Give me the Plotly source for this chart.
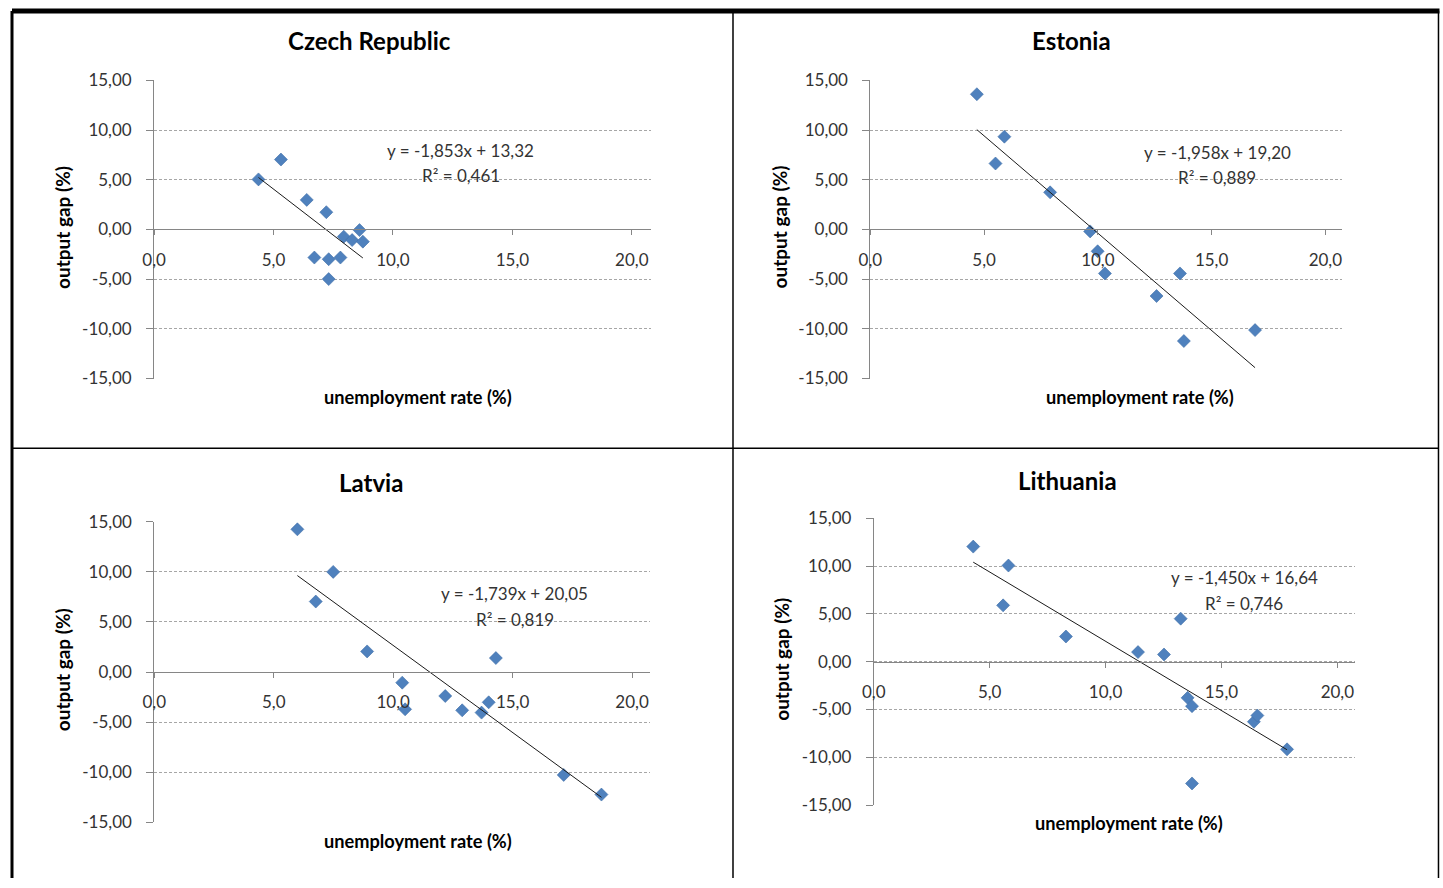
import plotly.graph_objects as go

# ---------------- data ----------------
countries = ["Czech Republic", "Estonia", "Latvia", "Lithuania"]

cz_unemp = [4.37, 5.31, 6.39, 7.21, 8.60, 7.94, 8.29, 8.74, 6.71, 7.31, 7.80, 7.31]
cz_gap = [5.03, 7.03, 2.97, 1.73, -0.07, -0.73, -1.07, -1.23, -2.83, -3.00, -2.83, -5.00]

ee_unemp = [4.68, 5.89, 5.50, 7.90, 9.66, 9.99, 10.31, 13.61, 12.58, 16.91, 13.78]
ee_gap = [13.60, 9.33, 6.63, 3.73, -0.20, -2.20, -4.43, -4.43, -6.70, -10.13, -11.23]

lv_unemp = [5.99, 7.49, 6.76, 8.91, 14.30, 10.38, 10.50, 12.18, 12.89, 13.70, 14.00, 17.14, 18.72]
lv_gap = [14.25, 10.00, 7.04, 2.06, 1.40, -1.06, -3.72, -2.39, -3.82, -4.05, -3.02, -10.27, -12.23]

lt_unemp = [4.29, 5.81, 5.58, 8.29, 11.40, 12.52, 13.24, 13.54, 13.73, 16.40, 16.55, 17.83, 13.73]
lt_gap = [12.05, 10.07, 5.90, 2.64, 1.01, 0.76, 4.51, -3.78, -4.65, -6.28, -5.63, -9.17, -12.74]

slopes = [-1.853, -1.958, -1.739, -1.450]
intercepts = [13.32, 19.20, 20.05, 16.64]
equations = ["y = -1,853x + 13,32", "y = -1,958x + 19,20", "y = -1,739x + 20,05", "y = -1,450x + 16,64"]
r2_labels = ["R² = 0,461", "R² = 0,889", "R² = 0,819", "R² = 0,746"]

x_tick_vals = [0, 5, 10, 15, 20]
x_tick_labels = ["0,0", "5,0", "10,0", "15,0", "20,0"]
y_tick_vals = [-15, -10, -5, 0, 5, 10, 15]
y_tick_labels = ["-15,00", "-10,00", "-5,00", "0,00", "5,00", "10,00", "15,00"]

x_title = "unemployment rate (%)"
y_title = "output gap (%)"

xs = [cz_unemp, ee_unemp, lv_unemp, lt_unemp]
ys = [cz_gap, ee_gap, lv_gap, lt_gap]

# ---------------- layout geometry ----------------
W, H = 1443, 888
# the photographed page appears scaled and offset; target positions below are
# given in picture pixels and converted to page pixels
SX, OX = 0.991, 10.5
SY, OY = 0.979, 10.5


def px(x):
    return ((x - OX) / SX) / W


def py(y):
    return 1 - ((y - OY) / SY) / H


# plot areas in picture pixels: left, right, top (=15), bottom (=-15), x range max
panels = [
    dict(l=152.5, r=649.0, t=80.0, b=379.0, xmax=20.8),
    dict(l=868.3, r=1340.0, t=80.0, b=379.0, xmax=20.75),
    dict(l=152.7, r=648.0, t=522.7, b=824.0, xmax=20.75),
    dict(l=871.7, r=1353.0, t=519.3, b=806.7, xmax=20.78),
]
title_pos = [(368, 40), (1069, 40), (369, 483), (1065, 481)]
xtitle_pos = [(416, 398), (1138, 398), (416, 843), (1127, 825)]
ytitle_pos = [(61, 227.5), (777, 227.5), (61, 671), (780, 661)]
eq_pos = [(459, 150, 175.5), (1215, 152, 177.5), (513, 595, 620.5), (1242, 579, 604.5)]

FONT = "Lato"
TXT = "#333333"
AXC = "#868686"
BLUE = "#4F81BD"

fig = go.Figure()
annotations = []
shapes = []

for i in range(4):
    p = panels[i]
    sfx = "" if i == 0 else str(i + 1)
    xa, ya = "x" + sfx, "y" + sfx
    fig.add_trace(go.Scatter(
        x=xs[i], y=ys[i], mode="markers", xaxis=xa, yaxis=ya,
        marker=dict(symbol="diamond", size=10, color=BLUE,
                    line=dict(width=0.6, color="#3f6fa8")),
        showlegend=False, hoverinfo="x+y"))
    x0, x1 = min(xs[i]), max(xs[i])
    fig.add_trace(go.Scatter(
        x=[x0, x1], y=[slopes[i] * x0 + intercepts[i], slopes[i] * x1 + intercepts[i]],
        mode="lines", xaxis=xa, yaxis=ya,
        line=dict(color="#1a1a1a", width=1), showlegend=False, hoverinfo="skip"))

    zero_y = p["t"] + (p["b"] - p["t"]) / 2.0
    xdom = [px(p["l"]), px(p["r"])]
    ydom = [py(p["b"]), py(p["t"])]

    fig.update_layout(**{
        ("xaxis" + sfx): dict(
            domain=xdom, range=[0, p["xmax"]], anchor="free", position=py(zero_y),
            tickvals=x_tick_vals, ticktext=x_tick_labels,
            showgrid=False, zeroline=False, showline=True, linecolor=AXC, linewidth=1,
            ticks="outside", ticklen=5, tickcolor=AXC, ticklabelstandoff=10,
            tickfont=dict(family=FONT, size=17, color=TXT), fixedrange=True),
        ("yaxis" + sfx): dict(
            domain=ydom, range=[-15, 15], anchor=xa,
            tickvals=y_tick_vals, ticktext=y_tick_labels,
            showgrid=True, gridcolor="#a6a6a6", griddash="3px,2px", gridwidth=1,
            zeroline=False, showline=True, linecolor=AXC, linewidth=1,
            ticks="outside", ticklen=7, tickcolor=AXC, ticklabelstandoff=11,
            tickfont=dict(family=FONT, size=17, color=TXT), fixedrange=True),
    })

    tx, ty = title_pos[i]
    annotations.append(dict(text="<b>" + countries[i] + "</b>", x=px(tx), y=py(ty),
                            xref="paper", yref="paper", showarrow=False,
                            xanchor="center", yanchor="middle",
                            font=dict(family=FONT, size=24, color="#000000")))
    tx, ty = xtitle_pos[i]
    annotations.append(dict(text="<b>" + x_title + "</b>", x=px(tx), y=py(ty),
                            xref="paper", yref="paper", showarrow=False,
                            xanchor="center", yanchor="middle",
                            font=dict(family=FONT, size=18.2, color="#000000")))
    tx, ty = ytitle_pos[i]
    annotations.append(dict(text="<b>" + y_title + "</b>", x=px(tx), y=py(ty),
                            xref="paper", yref="paper", showarrow=False, textangle=-90,
                            xanchor="center", yanchor="middle",
                            font=dict(family=FONT, size=19, color="#000000")))
    tx, ty1, ty2 = eq_pos[i]
    annotations.append(dict(text=equations[i], x=px(tx), y=py(ty1),
                            xref="paper", yref="paper", showarrow=False,
                            xanchor="center", yanchor="middle",
                            font=dict(family=FONT, size=17, color=TXT)))
    annotations.append(dict(text=r2_labels[i], x=px(tx), y=py(ty2),
                            xref="paper", yref="paper", showarrow=False,
                            xanchor="center", yanchor="middle",
                            font=dict(family=FONT, size=17, color=TXT)))

# table border lines
shapes.append(dict(type="line", xref="paper", yref="paper", x0=0, x1=px(1437), y0=1, y1=1,
                   line=dict(color="#000000", width=5)))
shapes.append(dict(type="line", xref="paper", yref="paper", x0=0, x1=0, y0=0, y1=1,
                   line=dict(color="#000000", width=3)))
for xv in [731, 1436]:
    shapes.append(dict(type="line", xref="paper", yref="paper", x0=px(xv), x1=px(xv), y0=0, y1=1,
                       line=dict(color="#000000", width=1.5)))
shapes.append(dict(type="line", xref="paper", yref="paper", x0=0, x1=px(1436), y0=py(449), y1=py(449),
                   line=dict(color="#000000", width=1.5)))

fig.update_layout(
    width=W, height=H, margin=dict(l=0, r=0, t=0, b=0),
    paper_bgcolor="white", plot_bgcolor="white",
    annotations=annotations, shapes=shapes,
    font=dict(family=FONT),
)

fig.write_html("out.html", config={"displayModeBar": False},
               post_script="document.body.style.margin='0';document.body.style.overflow='hidden';")
